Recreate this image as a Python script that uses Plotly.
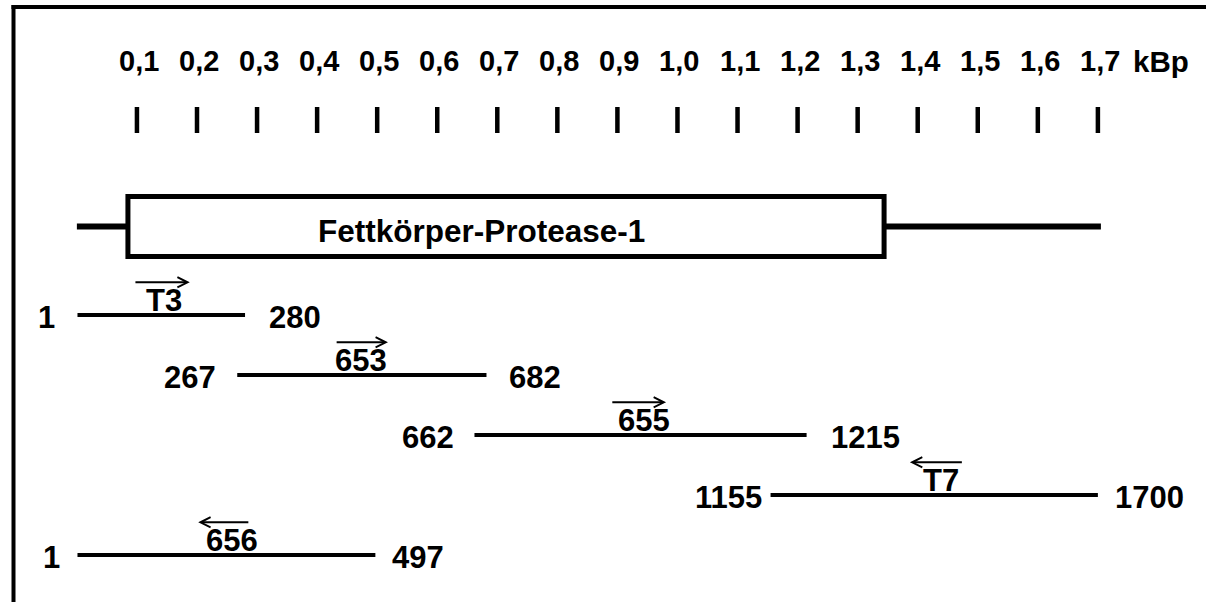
import plotly.graph_objects as go

# ---------------- data ----------------
scale_ticks_bp = [100, 200, 300, 400, 500, 600, 700, 800, 900, 1000,
                  1100, 1200, 1300, 1400, 1500, 1600, 1700]
scale_tick_labels = ["0,1", "0,2", "0,3", "0,4", "0,5", "0,6", "0,7", "0,8", "0,9",
                     "1,0", "1,1", "1,2", "1,3", "1,4", "1,5", "1,6", "1,7"]
scale_unit = "kBp"

backbone_bp = [0, 1705]
orf_bp = [85, 1344]
orf_name = "Fettkörper-Protease-1"

clone_start = [1, 267, 662, 1155, 1]
clone_end = [280, 682, 1215, 1700, 497]

primer_names = ["T3", "653", "655", "T7", "656"]
primer_tail_bp = [95, 430, 889, 1476, 288]
primer_head_bp = [188, 518, 981, 1387, 202]
primer_label_bp = [145, 473, 944, 1439, 258]

# ---------------- layout helpers (row units: 1 row = 60 px) ----------------
ROW_PX = 60.0
def row(px):
    return (px - 315.0) / ROW_PX

FONT = "Liberation Sans, Arial, sans-serif"
left_gap = [20, 19, 18, 7, 15]
right_gap = [22, 21, 22, 15, 15]

fig = go.Figure()

# scale tick marks
tx, ty = [], []
for b in scale_ticks_bp:
    tx += [b, b, None]
    ty += [row(107), row(133), None]
fig.add_trace(go.Scatter(x=tx, y=ty, mode="lines",
                         line=dict(color="black", width=4.5), hoverinfo="skip"))

# backbone
fig.add_trace(go.Scatter(x=backbone_bp, y=[row(226.5)] * 2, mode="lines",
                         line=dict(color="black", width=6), hoverinfo="skip"))

# clone segments
for i, (s, e) in enumerate(zip(clone_start, clone_end)):
    fig.add_trace(go.Scatter(x=[s, e], y=[i, i], mode="lines",
                             line=dict(color="black", width=4), hoverinfo="skip"))

ann = []
# scale labels
for b, lab in zip(scale_ticks_bp, scale_tick_labels):
    ann.append(dict(x=b, y=row(61), text="<b>%s</b>" % lab, showarrow=False,
                    xanchor="center", yanchor="middle", xshift=2,
                    font=dict(family=FONT, size=29, color="black")))
ann.append(dict(x=scale_ticks_bp[-1], y=row(61), text="<b>%s</b>" % scale_unit,
                showarrow=False, xanchor="left", yanchor="middle", xshift=33,
                font=dict(family=FONT, size=29.5, color="black")))

# ORF label
ann.append(dict(x=674, y=row(231), text="<b>%s</b>" % orf_name, showarrow=False,
                xanchor="center", yanchor="middle",
                font=dict(family=FONT, size=31.5, color="black")))

# clone end labels
for i, (s, e) in enumerate(zip(clone_start, clone_end)):
    ann.append(dict(x=s, y=i, text="<b>%d</b>" % s, showarrow=False,
                    xanchor="right", yanchor="middle", xshift=-left_gap[i], yshift=-2,
                    font=dict(family=FONT, size=31, color="black")))
    ann.append(dict(x=e, y=i, text="<b>%d</b>" % e, showarrow=False,
                    xanchor="left", yanchor="middle", xshift=right_gap[i], yshift=-2,
                    font=dict(family=FONT, size=31, color="black")))

# primers
for i, name in enumerate(primer_names):
    ann.append(dict(x=primer_head_bp[i], y=i - 0.545, ax=primer_tail_bp[i], ay=i - 0.545,
                    axref="x", ayref="y", xref="x", yref="y", text="",
                    showarrow=True, arrowhead=5, arrowwidth=2, arrowsize=1.0,
                    arrowcolor="black", standoff=0, startstandoff=0))
    ann.append(dict(x=primer_label_bp[i], y=i - 0.25, text="<b>%s</b>" % name,
                    showarrow=False, xanchor="center", yanchor="middle",
                    font=dict(family=FONT, size=31, color="black")))

shapes = [
    # ORF box
    dict(type="rect", xref="x", yref="y", x0=orf_bp[0], x1=orf_bp[1],
         y0=row(196.5), y1=row(256.5), line=dict(color="black", width=5),
         fillcolor="white", layer="above"),
    # frame
    dict(type="line", xref="paper", yref="paper", x0=13.5 / 1206, x1=13.5 / 1206,
         y0=0, y1=1 - 5 / 602, line=dict(color="black", width=4)),
    dict(type="line", xref="paper", yref="paper", x0=11.5 / 1206, x1=1,
         y0=1 - 7 / 602, y1=1 - 7 / 602, line=dict(color="black", width=4)),
]

fig.update_layout(
    width=1206, height=602, margin=dict(l=0, r=0, t=0, b=0),
    paper_bgcolor="white", plot_bgcolor="white", showlegend=False,
    xaxis=dict(range=[-128.0, 1880.0], visible=False, fixedrange=True),
    yaxis=dict(range=[row(602), row(0)], visible=False, fixedrange=True),
    annotations=ann, shapes=shapes,
)

fig.write_html("out.html", config={"displayModeBar": False},
               post_script="document.body.style.margin='0';document.body.style.overflow='hidden';")
